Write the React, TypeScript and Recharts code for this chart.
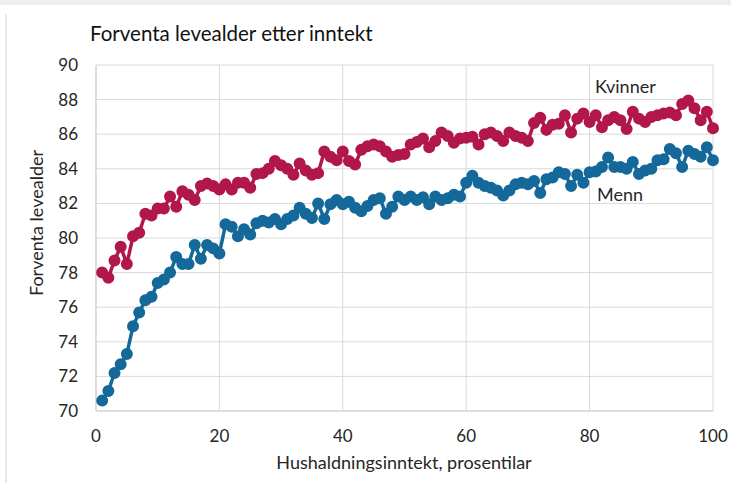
import { LineChart, Line, XAxis, YAxis, CartesianGrid } from 'recharts';

// prosentil 1-100
const percentiles = [
  1, 2, 3, 4, 5, 6, 7, 8, 9, 10, 11, 12, 13, 14, 15, 16, 17, 18, 19, 20,
  21, 22, 23, 24, 25, 26, 27, 28, 29, 30, 31, 32, 33, 34, 35, 36, 37, 38, 39, 40,
  41, 42, 43, 44, 45, 46, 47, 48, 49, 50, 51, 52, 53, 54, 55, 56, 57, 58, 59, 60,
  61, 62, 63, 64, 65, 66, 67, 68, 69, 70, 71, 72, 73, 74, 75, 76, 77, 78, 79, 80,
  81, 82, 83, 84, 85, 86, 87, 88, 89, 90, 91, 92, 93, 94, 95, 96, 97, 98, 99, 100,
];

const kvinner = [
  78.0, 77.7, 78.7, 79.5, 78.5, 80.1, 80.3, 81.4, 81.3, 81.7,
  81.7, 82.4, 81.8, 82.7, 82.5, 82.2, 83.0, 83.15, 83.0, 82.8,
  83.1, 82.8, 83.2, 83.2, 82.9, 83.7, 83.75, 84.0, 84.45, 84.2,
  84.0, 83.65, 84.3, 83.9, 83.65, 83.75, 85.0, 84.7, 84.5, 85.0,
  84.45, 84.25, 85.1, 85.3, 85.4, 85.3, 85.0, 84.7, 84.8, 84.85,
  85.4, 85.55, 85.75, 85.25, 85.6, 86.1, 85.9, 85.5, 85.75, 85.8,
  85.85, 85.4, 86.0, 86.1, 85.9, 85.6, 86.1, 85.9, 85.8, 85.6,
  86.65, 86.95, 86.25, 86.55, 86.6, 87.1, 86.1, 86.9, 87.2, 86.7,
  87.1, 86.4, 86.8, 87.0, 86.8, 86.3, 87.3, 86.9, 86.7, 87.0,
  87.1, 87.2, 87.25, 87.1, 87.75, 87.95, 87.5, 86.8, 87.3, 86.35,
];

const menn = [
  70.6, 71.15, 72.2, 72.7, 73.3, 74.9, 75.7, 76.4, 76.6, 77.4,
  77.6, 78.0, 78.9, 78.5, 78.5, 79.6, 78.8, 79.6, 79.4, 79.1,
  80.8, 80.65, 80.1, 80.5, 80.2, 80.85, 81.0, 80.9, 81.1, 80.8,
  81.1, 81.3, 81.75, 81.4, 81.15, 82.0, 81.1, 81.95, 82.2, 81.95,
  82.1, 81.75, 81.55, 81.85, 82.2, 82.3, 81.4, 81.8, 82.4, 82.2,
  82.4, 82.2, 82.35, 81.95, 82.4, 82.2, 82.3, 82.5, 82.4, 83.2,
  83.6, 83.2, 83.0, 82.9, 82.75, 82.45, 82.75, 83.1, 83.2, 83.1,
  83.3, 82.6, 83.4, 83.5, 83.8, 83.7, 83.0, 83.65, 83.2, 83.8,
  83.85, 84.1, 84.65, 84.1, 84.1, 84.0, 84.4, 83.7, 83.9, 84.0,
  84.5, 84.55, 85.15, 84.9, 84.1, 85.05, 84.85, 84.7, 85.25, 84.5,
];

const xTicks = [0, 20, 40, 60, 80, 100];
const yTicks = [70, 72, 74, 76, 78, 80, 82, 84, 86, 88, 90];

const rows = percentiles.map((p, i) => ({ p, kvinner: kvinner[i], menn: menn[i] }));

const RED = '#B2174A';
const BLUE = '#14699A';
const FONT = 'Lato, sans-serif';

export default function App() {
  return (
    <div style={{ position: 'absolute', left: 0, top: 0, width: 731, height: 483, background: '#fff' }}>
      <LineChart width={731} height={483} data={rows} margin={{ top: 65, right: 18, bottom: 0, left: 0 }}>
        <CartesianGrid stroke="#d9d9d9" />
        <XAxis
          dataKey="p"
          type="number"
          domain={[0, 100]}
          ticks={xTicks}
          height={72}
          tickLine={false}
          tickMargin={13}
          axisLine={{ stroke: '#d0d0d0' }}
          tick={{ fontSize: 17, fill: '#262626', fontFamily: FONT }}
        />
        <YAxis
          type="number"
          domain={[70, 90]}
          ticks={yTicks}
          width={96}
          tickLine={false}
          tickMargin={12}
          axisLine={{ stroke: '#d0d0d0' }}
          tick={{ fontSize: 17, fill: '#262626', fontFamily: FONT }}
        />
        <Line
          dataKey="kvinner"
          stroke={RED}
          strokeWidth={3.5}
          dot={{ r: 5, fill: RED, stroke: RED, strokeWidth: 2 }}
          isAnimationActive={false}
        />
        <Line
          dataKey="menn"
          stroke={BLUE}
          strokeWidth={3.5}
          dot={{ r: 5, fill: BLUE, stroke: BLUE, strokeWidth: 2 }}
          isAnimationActive={false}
        />
      </LineChart>
      <svg width={731} height={483} style={{ position: 'absolute', left: 0, top: 0, pointerEvents: 'none' }}>
        <rect x={0} y={0} width={731} height={5} fill="#eeeeee" />
        <line x1={6} y1={14} x2={6} y2={483} stroke="#e3e3e3" strokeWidth={1.5} />
        <text x={90} y={41} fontSize={20.5} fontFamily={FONT} fill="#111">Forventa levealder etter inntekt</text>
        <text x={595} y={93} fontSize={18} fontFamily={FONT} fill="#262626">Kvinner</text>
        <text x={597} y={201} fontSize={18} fontFamily={FONT} fill="#262626">Menn</text>
        <text x={404} y={469} fontSize={18} fontFamily={FONT} fill="#262626" textAnchor="middle">
          Hushaldningsinntekt, prosentilar
        </text>
        <text
          x={43}
          y={223}
          fontSize={18}
          fontFamily={FONT}
          fill="#262626"
          textAnchor="middle"
          transform="rotate(-90 43 223)"
        >
          Forventa levealder
        </text>
      </svg>
    </div>
  );
}
